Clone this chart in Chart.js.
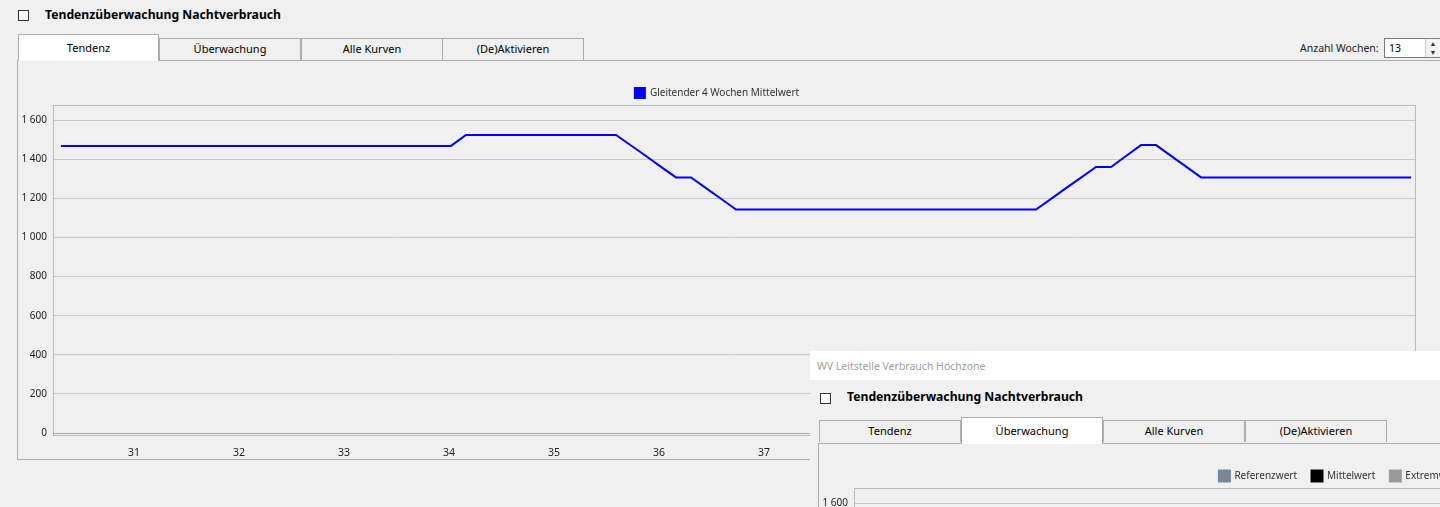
<!DOCTYPE html>
<html>
<head>
<meta charset="utf-8">
<script src="https://cdn.jsdelivr.net/npm/chart.js@4.4.1/dist/chart.umd.min.js"></script>
<style>
    html, body { margin: 0; padding: 0; }
    body { width: 1440px; height: 507px; overflow: hidden; position: relative; background: #f0f0f0; font-family: "Noto Sans", sans-serif; color: #000; }
    .abs { position: absolute; }
    .check { width: 9px; height: 9px; border: 1px solid #333; background: #fff; }
    .title { font-weight: bold; font-size: 12.2px; line-height: 18px; white-space: nowrap; }
    .tab { box-sizing: border-box; height: 22px; border: 1px solid #adadad; border-bottom: none; background: #f0f0f0; font-size: 11px; line-height: 20px; text-align: center; }
    .tab.sel { height: 27px; background: #fff; line-height: 26px; z-index: 3; }
    .panel { box-sizing: border-box; border: 1px solid #adadad; }
    .small { font-size: 10.5px; white-space: nowrap; }
</style>
</head>
<body>

<div class="abs check" style="left:18px; top:10px;"></div>
<div class="abs title" style="left:45px; top:6px;">Tendenzüberwachung Nachtverbrauch</div>

<div class="abs panel" style="left:17px; top:60px; width:1440px; height:400px;"></div>
<div class="abs tab sel" style="left:18px; top:34px; width:141px;">Tendenz</div>
<div class="abs tab" style="left:159px; top:38px; width:142px;">Überwachung</div>
<div class="abs tab" style="left:301px; top:38px; width:142px;">Alle Kurven</div>
<div class="abs tab" style="left:442px; top:38px; width:142px;">(De)Aktivieren</div>

<div class="abs small" style="left:1300px; top:40px; line-height:16px; color:#222;">Anzahl Wochen:</div>
<div class="abs" style="left:1384px; top:38px; width:60px; height:20px; box-sizing:border-box; border:1px solid #7a7a7a; background:#fff;">
    <div class="abs small" style="left:4px; top:1px; line-height:16px;">13</div>
    <div class="abs" style="left:40px; top:0px; width:14px; height:18px; border-left:1px solid #ccc; background:#f4f4f4; font-size:7px; line-height:9px; text-align:center; color:#333;">&#9650;<br>&#9660;</div>
</div>

<canvas id="mainChart" class="abs" style="left:18px; top:61px;" width="1399" height="398"></canvas>

<!-- second window in front -->
<div class="abs" style="left:810px; top:351px; width:640px; height:160px; background:#f0f0f0; z-index:5; overflow:hidden;">
    <div class="abs" style="left:0; top:0; width:640px; height:29px; background:#fff;"></div>
    <div class="abs small" style="left:7px; top:7px; line-height:16px; color:#a0a0a0;">WV Leitstelle Verbrauch Hochzone</div>
    <div class="abs check" style="left:10px; top:42px;"></div>
    <div class="abs title" style="left:37px; top:37px;">Tendenzüberwachung Nachtverbrauch</div>
    <div class="abs panel" style="left:8px; top:92px; width:700px; height:200px;"></div>
    <div class="abs tab" style="left:9px; top:69px; width:142px;">Tendenz</div>
    <div class="abs tab sel" style="left:151px; top:66px; width:142px;">Überwachung</div>
    <div class="abs tab" style="left:293px; top:69px; width:142px;">Alle Kurven</div>
    <div class="abs tab" style="left:435px; top:69px; width:142px;">(De)Aktivieren</div>
    <canvas id="secondChart" class="abs" style="left:9px; top:93px;" width="1058" height="398"></canvas>
</div>

<script>
// week numbers shown on the x axis (13 weeks)
var weekLabels = [31, 32, 33, 34, 35, 36, 37, 38, 39, 40, 41, 42, 43];

// daily values of the 4 week moving average (91 days)
var nightAvg = [
    1468, 1468, 1468, 1468, 1468, 1468, 1468, 1468, 1468, 1468,
    1468, 1468, 1468, 1468, 1468, 1468, 1468, 1468, 1468, 1468,
    1468, 1468, 1468, 1468, 1468, 1468, 1468, 1524, 1524, 1524,
    1524, 1524, 1524, 1524, 1524, 1524, 1524, 1524, 1470, 1416,
    1361, 1307, 1307, 1252, 1198, 1143, 1143, 1143, 1143, 1143,
    1143, 1143, 1143, 1143, 1143, 1143, 1143, 1143, 1143, 1143,
    1143, 1143, 1143, 1143, 1143, 1143, 1197, 1252, 1306, 1360,
    1360, 1416, 1472, 1472, 1417, 1362, 1307, 1307, 1307, 1307,
    1307, 1307, 1307, 1307, 1307, 1307, 1307, 1307, 1307, 1307,
    1307
];

var yTicks = [0, 200, 400, 600, 800, 1000, 1200, 1400, 1600];

// legend of the second (front) window, no data visible
var frontSeries = ["Referenzwert", "Mittelwert", "Extremwerte"];
var frontColors = ["#778899", "#000000", "#9a9a9a"];

var firstWeekTickDay = 4.87;   // day index where week 31 label sits

function fmtThousands(v){
    return String(v).replace(/\B(?=(\d{3})+(?!\d))/g, " ");
}

var framePlugin = {
    id: "frame",
    afterLayout: function(chart){
        // legend sits a bit closer to the plot in the original
        if(chart.legend){
            chart.legend.top += 3;
            chart.legend.bottom += 3;
        }
    },
    beforeDatasetsDraw: function(chart){
        var a = chart.chartArea;
        var ctx = chart.ctx;
        ctx.save();
        ctx.strokeStyle = "#b9b9b9";
        ctx.lineWidth = 1;
        ctx.strokeRect(Math.round(a.left) + 0.5, Math.round(a.top) + 0.5, Math.round(a.right - a.left) - 1, Math.round(a.bottom - a.top));
        ctx.restore();
    }
};

function makeScales(){
    return {
        x: {
            type: "linear",
            min: -0.53,
            max: 90.33,
            grid: {display: false},
            border: {display: false},
            afterBuildTicks: function(scale){
                scale.ticks = weekLabels.map(function(w, k){ return {value: firstWeekTickDay + 7 * k}; });
            },
            afterFit: function(scale){ scale.height = 24; },
            ticks: {
                autoSkip: false,
                maxRotation: 0,
                padding: 4,
                color: "#222",
                font: {family: "Noto Sans", size: 10.5},
                callback: function(v, i){ return String(weekLabels[i]); }
            }
        },
        y: {
            type: "linear",
            min: -10,
            max: 1677,
            border: {display: false},
            grid: {
                drawTicks: false,
                color: function(c){ return c.tick && c.tick.value === 0 ? "#a8a8a8" : "#c8c8c8"; }
            },
            afterBuildTicks: function(scale){
                scale.ticks = yTicks.map(function(v){ return {value: v}; });
            },
            afterFit: function(scale){ scale.width = 35; },
            ticks: {
                padding: 6,
                color: "#222",
                font: {family: "Noto Sans", size: 10},
                callback: function(v){ return fmtThousands(v); }
            }
        }
    };
}

function legendOpts(extraGap){
    var labels = {
        boxWidth: 10,
        boxHeight: 10,
        padding: 5,
        color: "#333",
        font: {family: "Noto Sans", size: 10}
    };
    if(extraGap){
        // wider space between legend entries, like the original
        labels.generateLabels = function(chart){
            var items = Chart.defaults.plugins.legend.labels.generateLabels(chart);
            items.forEach(function(it){ it.text = it.text + "\u2003"; });
            return items;
        };
    }
    return {display: true, position: "top", labels: labels};
}

var mainChart = new Chart("mainChart", {
    type: "line",
    data: {
        datasets: [{
            label: "Gleitender 4 Wochen Mittelwert",
            data: nightAvg.map(function(v, i){ return {x: i, y: v}; }),
            borderColor: "#0000ff",
            backgroundColor: "#0000ff",
            borderWidth: 2,
            pointRadius: 0,
            tension: 0,
            fill: false
        }]
    },
    options: {
        responsive: false,
        animation: false,
        layout: {padding: {top: 19, right: 1, bottom: 0, left: 0}},
        plugins: {legend: legendOpts(false), tooltip: {enabled: false}},
        scales: makeScales()
    },
    plugins: [framePlugin]
});

var secondChart = new Chart("secondChart", {
    type: "line",
    data: {
        datasets: frontSeries.map(function(name, k){
            return {label: name, data: [], borderColor: frontColors[k], backgroundColor: frontColors[k], pointRadius: 0};
        })
    },
    options: {
        responsive: false,
        animation: false,
        layout: {padding: {top: 19, right: 1, bottom: 0, left: 0}},
        plugins: {legend: legendOpts(true), tooltip: {enabled: false}},
        scales: makeScales()
    },
    plugins: [framePlugin]
});
</script>
</body>
</html>
